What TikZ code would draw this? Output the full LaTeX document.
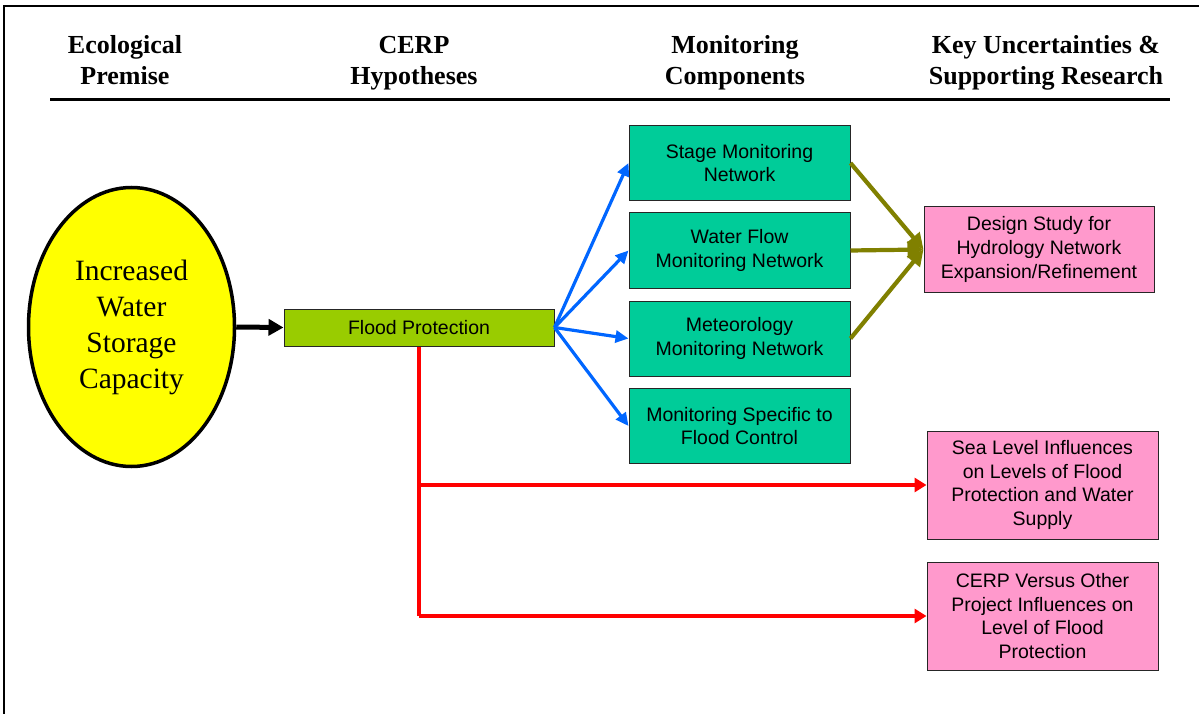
\documentclass[tikz,border=0pt]{standalone}
\usepackage{fontspec}
\setmainfont{Liberation Serif}
\newfontfamily\arialf{Liberation Sans}
\usetikzlibrary{arrows.meta,shapes.geometric}
\definecolor{ellc}{HTML}{FFFF00}
\definecolor{fpc}{HTML}{99CC00}
\definecolor{monc}{HTML}{00CC99}
\definecolor{uncc}{HTML}{FF99CC}
\definecolor{bluc}{HTML}{0066FF}
\definecolor{olic}{HTML}{808000}
\definecolor{redc}{HTML}{FF0000}
\begin{document}
\begin{tikzpicture}[x=1pt,y=-1pt,
  box/.style={draw=black!85, line width=1pt, align=center, inner sep=0pt,
    font=\arialf\fontsize{19.5}{23.7}\selectfont},
  monbox/.style={box, fill=monc, minimum width=221pt, minimum height=75pt},
  uncbox/.style={box, fill=uncc, minimum width=231pt, minimum height=108pt},
  hdr/.style={align=center, inner sep=0pt, font=\bfseries\fontsize{26}{31}\selectfont},
  bluarr/.style={draw=bluc, line width=3.2pt, -{Triangle[length=13pt,width=12pt]}},
  oliarr/.style={draw=olic, line width=4.2pt, -{Triangle[length=16pt,width=16pt]}},
  redarr/.style={draw=redc, line width=4.5pt, -{Triangle[length=12pt,width=14pt]}},
  redline/.style={draw=redc, line width=4.5pt},
  blkarr/.style={draw=black, line width=5pt, -{Triangle[length=15pt,width=16pt]}}]
\useasboundingbox (0,0) rectangle (1199,714);
\fill[white] (0,0) rectangle (1199,714);
% frame
\coordinate (fbl) at (3.5,714);
\coordinate (ftl) at (3.5,6.5);
\coordinate (ftr) at (1199,6.5);
\draw[line width=2pt] (fbl) -- (ftl) -- (ftr);
% header rule
\coordinate (hr1) at (50,100);
\coordinate (hr2) at (1170,100);
\draw[line width=3pt] (hr1) -- (hr2);
% headers
\node[hdr] (h1) at (125,62.5) {\strut Ecological\\\strut Premise};
\node[hdr] (h2) at (414,62.5) {\strut CERP\\\strut Hypotheses};
\node[hdr] (h3) at (735,62.5) {\strut Monitoring\\\strut Components};
\node[hdr] (h4) at (1046,62.5) {\strut Key Uncertainties \&\\\strut Supporting Research};
% ellipse
\node[ellipse, draw=black, line width=3.5pt, fill=ellc, minimum width=206pt, minimum height=279pt,
  inner sep=0pt, align=center, font=\fontsize{29.5}{36}\selectfont] (ell) at (131.5,327)
  {Increased\\Water\\Storage\\Capacity};
% flood protection
\node[box, fill=fpc, minimum width=270pt, minimum height=37pt] (fp) at (419,327.5) {Flood Protection};
% monitoring
\node[monbox] (m1) at (739.5,163) {Stage Monitoring\\Network};
\node[monbox] (m2) at (739.5,250.5) {Water Flow\\Monitoring Network};
\node[monbox] (m3) at (739.5,338.5) {Meteorology\\Monitoring Network};
\node[monbox] (m4) at (739.5,426) {Monitoring Specific to\\Flood Control};
% uncertainties
\node[box, fill=uncc, minimum width=230pt, minimum height=85pt] (u1) at (1039,249.5)
  {Design Study for\\Hydrology Network\\Expansion/Refinement};
\node[uncbox] (u2) at (1042.5,485) {Sea Level Influences\\on Levels of Flood\\Protection and Water\\Supply};
\node[uncbox] (u3) at (1042.5,616) {CERP Versus Other\\Project Influences on\\Level of Flood\\Protection};
% connectors
\draw[blkarr] (ell.east) -- (fp.west);
\foreach \m in {m1,m2,m3,m4} \draw[bluarr] (fp.east) -- (\m.west);
\foreach \m in {m1,m2,m3} \draw[oliarr] (\m.east) -- (u1.west);
\draw[redline] (fp.south) -- (fp.south |- u3.west);
\draw[redarr] (fp.south |- u2.west) -- (u2.west);
\draw[redarr] (fp.south |- u3.west) -- (u3.west);
\end{tikzpicture}
\end{document}
